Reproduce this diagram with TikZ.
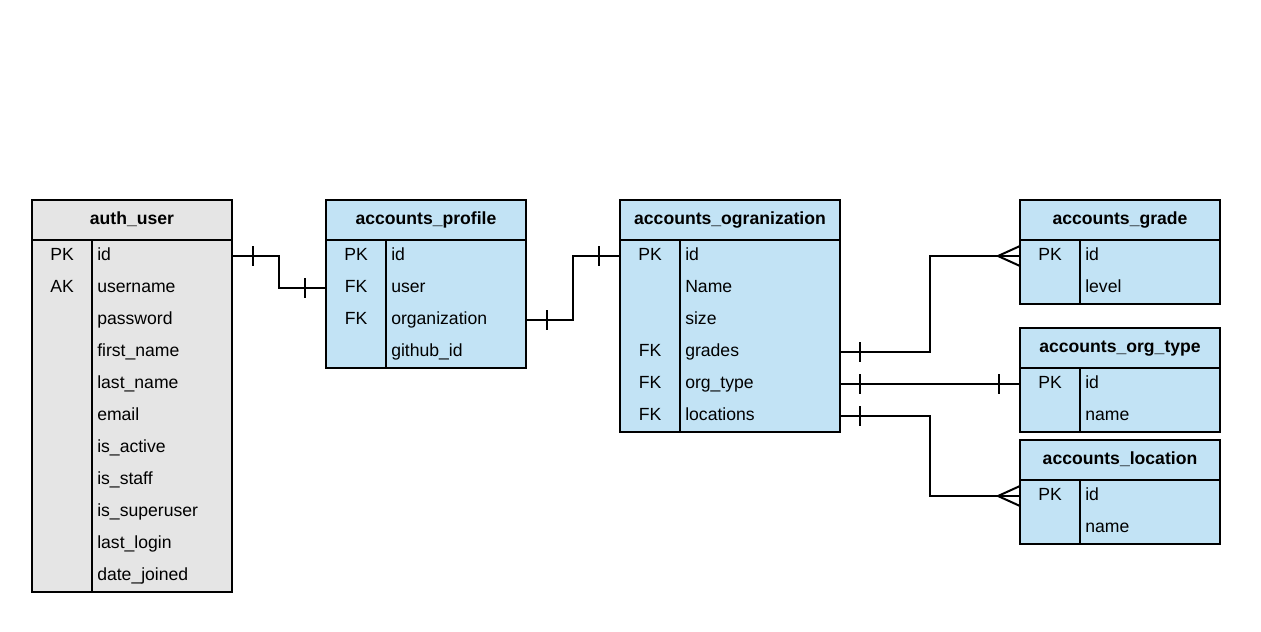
\documentclass[tikz,border=0pt]{standalone}
\usepackage{fontspec}
\setmainfont{Liberation Sans}
\usetikzlibrary{calc}
\definecolor{tblue}{HTML}{C2E3F5}
\definecolor{tgray}{HTML}{E5E5E5}
\tikzset{
  tblbox/.style={draw=black, line width=1.5pt, rectangle, inner sep=0pt, outer sep=0pt},
  hd/.style={font=\fontsize{13.2}{16}\selectfont\bfseries, inner sep=0pt, anchor=base},
  kt/.style={font=\fontsize{13.2}{16}\selectfont, inner sep=0pt, anchor=base},
  ft/.style={font=\fontsize{13.2}{16}\selectfont, inner sep=0pt, anchor=base west},
  conn/.style={draw=black, line width=1.5pt},
  tick/.style={draw=black, line width=1.5pt}
}
\newcommand\ertbl[7]{% name, left, top, width, rows, fill, title
  \node[tblbox, fill=#6, minimum width={#4*0.75pt}, minimum height={(40+32*#5)*0.75pt}, anchor=north west] (#1) at (#2,#3) {};
  \node[hd] (#1-h) at ($(#1.north west)+({#4/2},24.5)$) {#7};
  \draw[line width=1.5pt] ($(#1.north west)+(0,40)$) -- ++(#4,0);
  \draw[line width=1.5pt] ($(#1.north west)+(60,40)$) -- ++(0,{32*#5});
}
\newcommand\errow[4]{% table, row, key, field
  \node[kt] (#1-k#2) at ($(#1.north west)+(30,{28.5+32*#2})$) {#3};
  \node[ft] (#1-f#2) at ($(#1.north west)+(65,{28.5+32*#2})$) {#4};
  \coordinate (#1-e#2) at ($(#1.north east)+(0,{24+32*#2})$);
  \coordinate (#1-w#2) at ($(#1.north west)+(0,{24+32*#2})$);
}
\begin{document}
\begin{tikzpicture}[x=0.75pt,y=-0.75pt]
\useasboundingbox (0,0) rectangle (1261,632);

% auth_user
\ertbl{au}{32}{200}{200}{11}{tgray}{auth\_user}
\errow{au}{1}{PK}{id}
\errow{au}{2}{AK}{username}
\errow{au}{3}{}{password}
\errow{au}{4}{}{first\_name}
\errow{au}{5}{}{last\_name}
\errow{au}{6}{}{email}
\errow{au}{7}{}{is\_active}
\errow{au}{8}{}{is\_staff}
\errow{au}{9}{}{is\_superuser}
\errow{au}{10}{}{last\_login}
\errow{au}{11}{}{date\_joined}

% accounts_profile
\ertbl{ap}{326}{200}{200}{4}{tblue}{accounts\_profile}
\errow{ap}{1}{PK}{id}
\errow{ap}{2}{FK}{user}
\errow{ap}{3}{FK}{organization}
\errow{ap}{4}{}{github\_id}

% accounts_ogranization
\ertbl{ao}{620}{200}{220}{6}{tblue}{accounts\_ogranization}
\errow{ao}{1}{PK}{id}
\errow{ao}{2}{}{Name}
\errow{ao}{3}{}{size}
\errow{ao}{4}{FK}{grades}
\errow{ao}{5}{FK}{org\_type}
\errow{ao}{6}{FK}{locations}

% accounts_grade
\ertbl{ag}{1020}{200}{200}{2}{tblue}{accounts\_grade}
\errow{ag}{1}{PK}{id}
\errow{ag}{2}{}{level}

% accounts_org_type
\ertbl{at}{1020}{328}{200}{2}{tblue}{accounts\_org\_type}
\errow{at}{1}{PK}{id}
\errow{at}{2}{}{name}

% accounts_location
\ertbl{al}{1020}{440}{200}{2}{tblue}{accounts\_location}
\errow{al}{1}{PK}{id}
\errow{al}{2}{}{name}

% connectors
% auth_user.id -> accounts_profile.user
\draw[conn] (au-e1) -- ++(47,0) |- (ap-w2);
\draw[tick] ($(au-e1)+(21,-10)$) -- ++(0,20);
\draw[tick] ($(ap-w2)+(-21,-10)$) -- ++(0,20);

% accounts_profile.organization -> accounts_ogranization.id
\draw[conn] (ap-e3) -- ++(47,0) |- (ao-w1);
\draw[tick] ($(ap-e3)+(21,-10)$) -- ++(0,20);
\draw[tick] ($(ao-w1)+(-21,-10)$) -- ++(0,20);

% grades -> accounts_grade.id (crow's foot)
\draw[conn] (ao-e4) -- ++(90,0) |- (ag-w1);
\draw[tick] ($(ao-e4)+(20,-10)$) -- ++(0,20);
\draw[tick] ($(ag-w1)+(0,-10)$) -- ++(-22,10) -- ++(22,10);

% org_type -> accounts_org_type.id
\draw[conn] (ao-e5) -- (at-w1);
\draw[tick] ($(ao-e5)+(20,-10)$) -- ++(0,20);
\draw[tick] ($(at-w1)+(-21,-10)$) -- ++(0,20);

% locations -> accounts_location.id (crow's foot)
\draw[conn] (ao-e6) -- ++(90,0) |- (al-w1);
\draw[tick] ($(ao-e6)+(20,-10)$) -- ++(0,20);
\draw[tick] ($(al-w1)+(0,-10)$) -- ++(-22,10) -- ++(22,10);
\end{tikzpicture}
\end{document}
